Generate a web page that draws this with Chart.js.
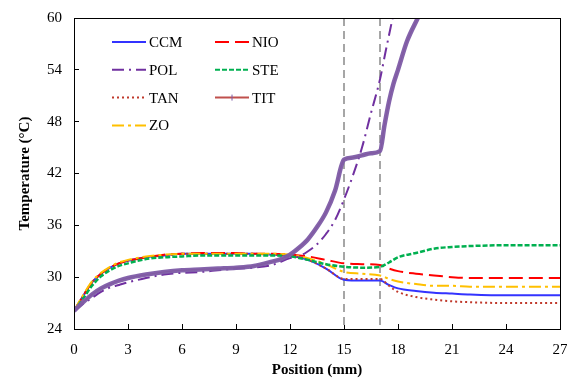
<!DOCTYPE html>
<html>
<head>
<meta charset="utf-8">
<script src="https://cdn.jsdelivr.net/npm/chart.js@4.4.1/dist/chart.umd.min.js"></script>
<style>
  body { margin: 0; background: #fff; }
</style>
</head>
<body>
<canvas id="myChart" width="567" height="379"></canvas>
<script>
// positions (mm) for the curves that stay low
const positions = [0, 0.5, 1, 1.5, 2, 2.5, 3, 4, 5, 6, 7, 8, 9, 10, 11, 12, 13, 14, 15, 16, 17, 17.5, 18, 19, 20, 21, 22, 24, 27];
const ccm = [26.1, 27.8, 29.4, 30.4, 31.1, 31.6, 31.9, 32.3, 32.5, 32.7, 32.7, 32.7, 32.7, 32.7, 32.6, 32.5, 32.0, 31.0, 29.7, 29.6, 29.6, 29.1, 28.7, 28.4, 28.2, 28.1, 28.0, 27.9, 27.9];
const nio = [26.1, 27.8, 29.4, 30.4, 31.1, 31.6, 31.9, 32.3, 32.6, 32.7, 32.8, 32.8, 32.8, 32.7, 32.7, 32.6, 32.4, 32.0, 31.6, 31.5, 31.4, 31.0, 30.7, 30.4, 30.2, 30.0, 29.9, 29.9, 29.9];
const ste = [26.1, 27.5, 29.0, 30.1, 30.8, 31.3, 31.6, 32.1, 32.3, 32.4, 32.5, 32.5, 32.5, 32.5, 32.5, 32.4, 32.0, 31.5, 31.2, 31.1, 31.2, 31.7, 32.3, 32.8, 33.3, 33.5, 33.6, 33.7, 33.7];
const tan = [26.1, 27.8, 29.4, 30.4, 31.1, 31.6, 31.9, 32.3, 32.5, 32.7, 32.7, 32.7, 32.7, 32.7, 32.6, 32.5, 32.0, 31.0, 29.8, 29.8, 29.8, 29.0, 28.3, 27.7, 27.4, 27.2, 27.1, 27.0, 27.0];
const zo = [26.1, 27.9, 29.5, 30.5, 31.2, 31.7, 32.0, 32.4, 32.6, 32.7, 32.7, 32.7, 32.7, 32.7, 32.7, 32.6, 32.2, 31.5, 30.6, 30.4, 30.2, 29.8, 29.5, 29.2, 29.0, 29.0, 28.9, 28.9, 28.9];

// POL and TIT leave the top of the plot
const polPositions = [0, 0.5, 1, 1.5, 2, 2.5, 3, 4, 5, 6, 7, 8, 9, 10, 11, 12, 12.5, 13, 13.5, 14, 14.5, 15, 15.5, 16, 16.5, 17, 17.3, 17.7];
const pol = [26.1, 26.9, 27.6, 28.3, 28.8, 29.1, 29.4, 29.9, 30.3, 30.5, 30.6, 30.8, 31.0, 31.1, 31.4, 32.2, 32.4, 33.0, 33.8, 35.0, 36.6, 39.0, 41.8, 45.0, 49.0, 52.9, 56.0, 60.0];
const titPositions = [0, 0.5, 1, 1.5, 2, 2.5, 3, 4, 5, 6, 7, 8, 9, 10, 11, 11.5, 12, 12.5, 13, 13.5, 14, 14.5, 15, 15.5, 16, 16.5, 17, 17.25, 17.5, 17.75, 18, 18.5, 19.1];
const tit = [26.1, 27.1, 28.0, 28.7, 29.2, 29.6, 29.9, 30.3, 30.6, 30.8, 30.9, 31.0, 31.1, 31.3, 31.8, 32.1, 32.6, 33.4, 34.4, 35.8, 37.5, 40.0, 43.6, 43.85, 44.1, 44.35, 44.6, 47.6, 50.3, 52.4, 54.0, 57.3, 60.0];

const sectionEdges = [15, 17];
const xTicks = [0, 3, 6, 9, 12, 15, 18, 21, 24, 27];
const yTicks = [24, 30, 36, 42, 48, 54, 60];
const legendOrder = ['CCM', 'NIO', 'POL', 'STE', 'TAN', 'TIT', 'ZO'];

function pts(xs, ys) {
  return xs.map((x, i) => ({x: x, y: ys[i]}));
}

function series(label, data, color, dash, width) {
  return {
    label: label,
    data: data,
    borderColor: color,
    borderDash: dash,
    borderWidth: width,
    pointRadius: 0,
    fill: false,
    tension: 0.4,
    cubicInterpolationMode: 'monotone'
  };
}

const serif = "'Liberation Serif', 'Times New Roman', serif";
Chart.defaults.font.family = serif;
Chart.defaults.font.size = 15;
Chart.defaults.color = '#000';

const frame = {
  id: 'frame',
  beforeDatasetsDraw(chart) {
    const c = chart.ctx, a = chart.chartArea;
    c.save();
    c.strokeStyle = '#a6a6a6';
    c.lineWidth = 2;
    c.setLineDash([8, 5]);
    sectionEdges.forEach(v => {
      const px = Math.round(chart.scales.x.getPixelForValue(v));
      c.beginPath();
      c.moveTo(px, a.top);
      c.lineTo(px, a.bottom);
      c.stroke();
    });
    c.restore();
  },
  afterDraw(chart) {
    const c = chart.ctx, a = chart.chartArea;
    c.save();
    c.strokeStyle = '#000';
    c.lineWidth = 1;
    c.strokeRect(Math.round(a.left) + 0.5, Math.round(a.top) + 0.5, Math.round(a.right - a.left), Math.round(a.bottom - a.top));
    c.restore();
  }
};

const insideLegend = {
  id: 'insideLegend',
  afterDraw(chart) {
    const c = chart.ctx;
    c.save();
    c.font = '15px ' + serif;
    c.textBaseline = 'middle';
    c.fillStyle = '#000';
    legendOrder.forEach((name, i) => {
      const ds = chart.data.datasets.find(d => d.label === name);
      const x = 112 + (i % 2) * 103;
      const y = 42 + Math.floor(i / 2) * 27.8;
      c.strokeStyle = ds.borderColor;
      c.lineWidth = 2;
      c.setLineDash(ds.borderDash || []);
      c.beginPath();
      c.moveTo(x, y);
      c.lineTo(x + 34, y);
      c.stroke();
      if (name === 'TIT') {
        c.setLineDash([]);
        c.strokeStyle = '#7d5ba6';
        c.lineWidth = 1;
        c.beginPath();
        c.moveTo(x + 17, y - 3);
        c.lineTo(x + 17, y + 3);
        c.stroke();
      }
      c.fillText(name, x + 37, y + 1);
    });
    c.restore();
  }
};

const ctx = document.getElementById('myChart').getContext('2d');

const titBand = series('TIT band', pts(titPositions, tit), 'rgba(125, 91, 166, 0.95)', [], 4.5);

const myChart = new Chart(ctx, {
  type: 'line',
  data: {
    datasets: [
      titBand,
      series('TIT', pts(titPositions, tit), '#c0504d', [], 1.2),
      series('POL', pts(polPositions, pol), '#7030a0', [12, 5, 2, 5], 2),
      series('STE', pts(positions, ste), '#00b050', [5, 2], 2.5),
      series('ZO', pts(positions, zo), '#ffc000', [12, 4, 3, 4], 2),
      series('NIO', pts(positions, nio), '#ff0000', [14, 6], 2),
      series('TAN', pts(positions, tan), '#c0392b', [2, 3], 2),
      series('CCM', pts(positions, ccm), '#3333ff', [], 2)
    ]
  },
  options: {
    responsive: false,
    animation: false,
    layout: {padding: {top: 18, right: 7, left: 0, bottom: 0}},
    plugins: {
      legend: {display: false},
      tooltip: {enabled: false}
    },
    scales: {
      x: {
        type: 'linear',
        min: 0,
        max: 27,
        afterBuildTicks: s => { s.ticks = xTicks.map(v => ({value: v})); },
        afterFit: s => { s.height = 50; s.paddingLeft = 0; s.paddingRight = 0; },
        grid: {drawOnChartArea: false, color: '#000', tickLength: -5},
        border: {color: '#000'},
        ticks: {padding: 17, font: {size: 15}},
        title: {display: true, text: 'Position (mm)', font: {size: 15, weight: 'bold'}, padding: {top: 0, bottom: 0}}
      },
      y: {
        min: 24,
        max: 60,
        afterBuildTicks: s => { s.ticks = yTicks.map(v => ({value: v})); },
        afterFit: s => { s.width = 74; s.paddingTop = 0; s.paddingBottom = 0; },
        grid: {drawOnChartArea: false, color: '#000', tickLength: -5},
        border: {color: '#000'},
        ticks: {padding: 17, font: {size: 15}},
        title: {display: true, text: 'Temperature (°C)', font: {size: 15, weight: 'bold'}, padding: {top: 16, bottom: 0}}
      }
    }
  },
  plugins: [frame, insideLegend]
});
</script>
</body>
</html>
